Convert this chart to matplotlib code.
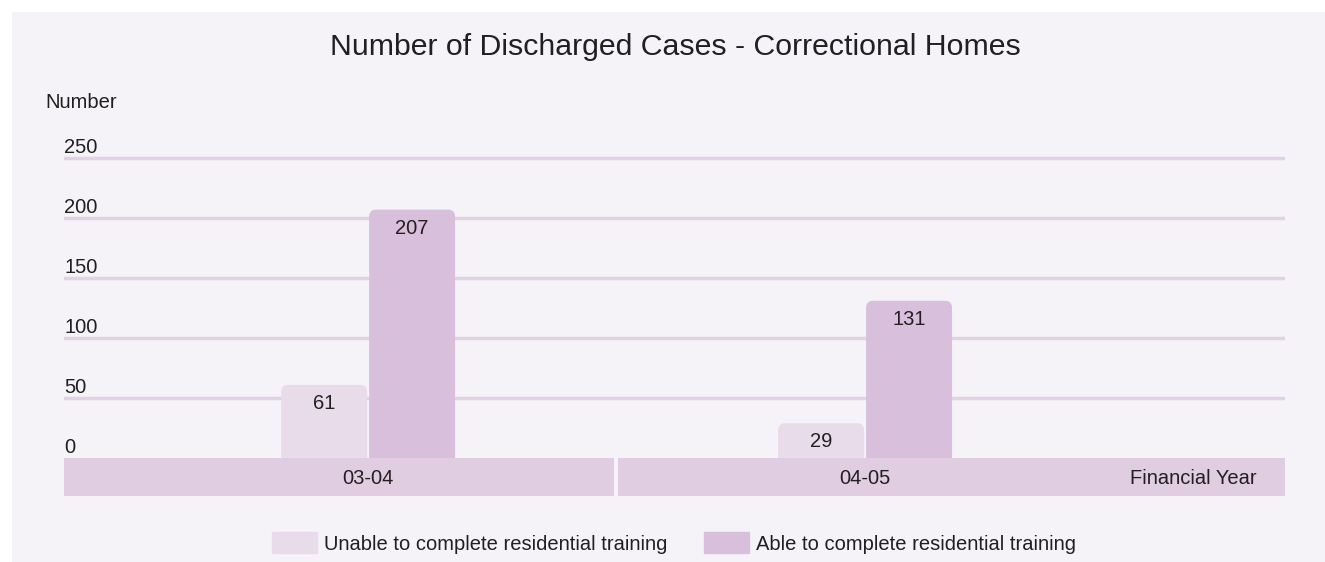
import matplotlib.pyplot as plt
import matplotlib.patches as mpatches
import numpy as np

plt.rcParams['font.family'] = ['Liberation Sans', 'DejaVu Sans']

years = ["03-04", "04-05"]
unable = [61, 29]
able = [207, 131]
yticks = [0, 50, 100, 150, 200, 250]

light = "#e8dcea"
dark = "#d8c0dc"
band = "#e0cde2"
grid = "#e2d2e6"
bg = "#f5f3f8"
txt = "#231f20"
fs = 14.5

W, H = 1325, 562
fig = plt.figure(figsize=(W / 100, H / 100), dpi=100, facecolor="white")
fig.patches.append(mpatches.Rectangle((12 / W, 0), 1, 1 - 12 / H, transform=fig.transFigure,
                                      facecolor=bg, edgecolor="none", zorder=-10))

# axes: x 64..1285 px, y 150..496 px  (x: 497 px per category, y: 1.2 px per unit)
ax = fig.add_axes([64 / W, 1 - 496 / H, (1285 - 64) / W, (496 - 150) / H])
ax.set_facecolor("none")
x0, x1 = -0.612, 1.845
ax.set_xlim(x0, x1)
ax.set_ylim(-38 / 1.2, 250 + 8 / 1.2)
for s in ax.spines.values():
    s.set_visible(False)
ax.set_xticks([])
ax.set_yticks([])

for v in yticks[1:]:
    ax.axhline(v, color=grid, lw=2.5, zorder=0)
for v in yticks:
    ax.text(x0, v + 0.8, str(v), ha="left", va="bottom", fontsize=fs, color=txt)

# category band
ax.axhspan(-38 / 1.2, 0, xmin=0, xmax=0.4505, color=band, lw=0, zorder=3)
ax.axhspan(-38 / 1.2, 0, xmin=0.4537, xmax=1, color=band, lw=0, zorder=3)

x = np.arange(len(years))
w = 0.173
b1 = ax.bar(x - w / 2 - 0.002, unable, w, color=light, zorder=2)
b2 = ax.bar(x + w / 2 + 0.002, able, w, color=dark, zorder=2)
# round the top corners: swap each bar for a rounded box reaching below the band
rad = 7 / 497
for bars in (b1, b2):
    for r in bars:
        r.set_visible(False)
        h = r.get_height()
        ax.add_patch(mpatches.FancyBboxPatch(
            (r.get_x(), -10), r.get_width(), h + 10,
            boxstyle=f"round,pad=0,rounding_size={rad}", mutation_aspect=(7 / 1.2) / rad,
            facecolor=r.get_facecolor(), edgecolor="none", zorder=2))
        ax.text(r.get_x() + r.get_width() / 2, h - 7.5, str(int(h)), ha="center", va="top",
                fontsize=fs, color=txt, zorder=4)

for xi, lab in zip(x, years):
    ax.text(xi, -16.8, lab, ha="center", va="center", fontsize=fs, color=txt, zorder=4)
ax.text(x1 - 28 / 497, -16.8, "Financial Year", ha="right", va="center", fontsize=fs, color=txt, zorder=4)

fig.text(45 / W, 1 - 103 / H, "Number", ha="left", va="center", fontsize=fs, color=txt)
fig.text(675 / W, 1 - 47 / H, "Number of Discharged Cases - Correctional Homes",
         ha="center", va="center", fontsize=21.8, color=txt)

handles = [mpatches.Patch(color=light), mpatches.Patch(color=dark)]
fig.legend(handles, ["Unable to complete residential training", "Able to complete residential training"],
           loc="center", bbox_to_anchor=(674 / W, 1 - 543 / H), ncol=2, frameon=False,
           fontsize=fs, handlelength=2.24, handleheight=1.19, handletextpad=0.35,
           columnspacing=1.84, labelcolor=txt)

fig.savefig("out.png", dpi=100, facecolor=fig.get_facecolor())
